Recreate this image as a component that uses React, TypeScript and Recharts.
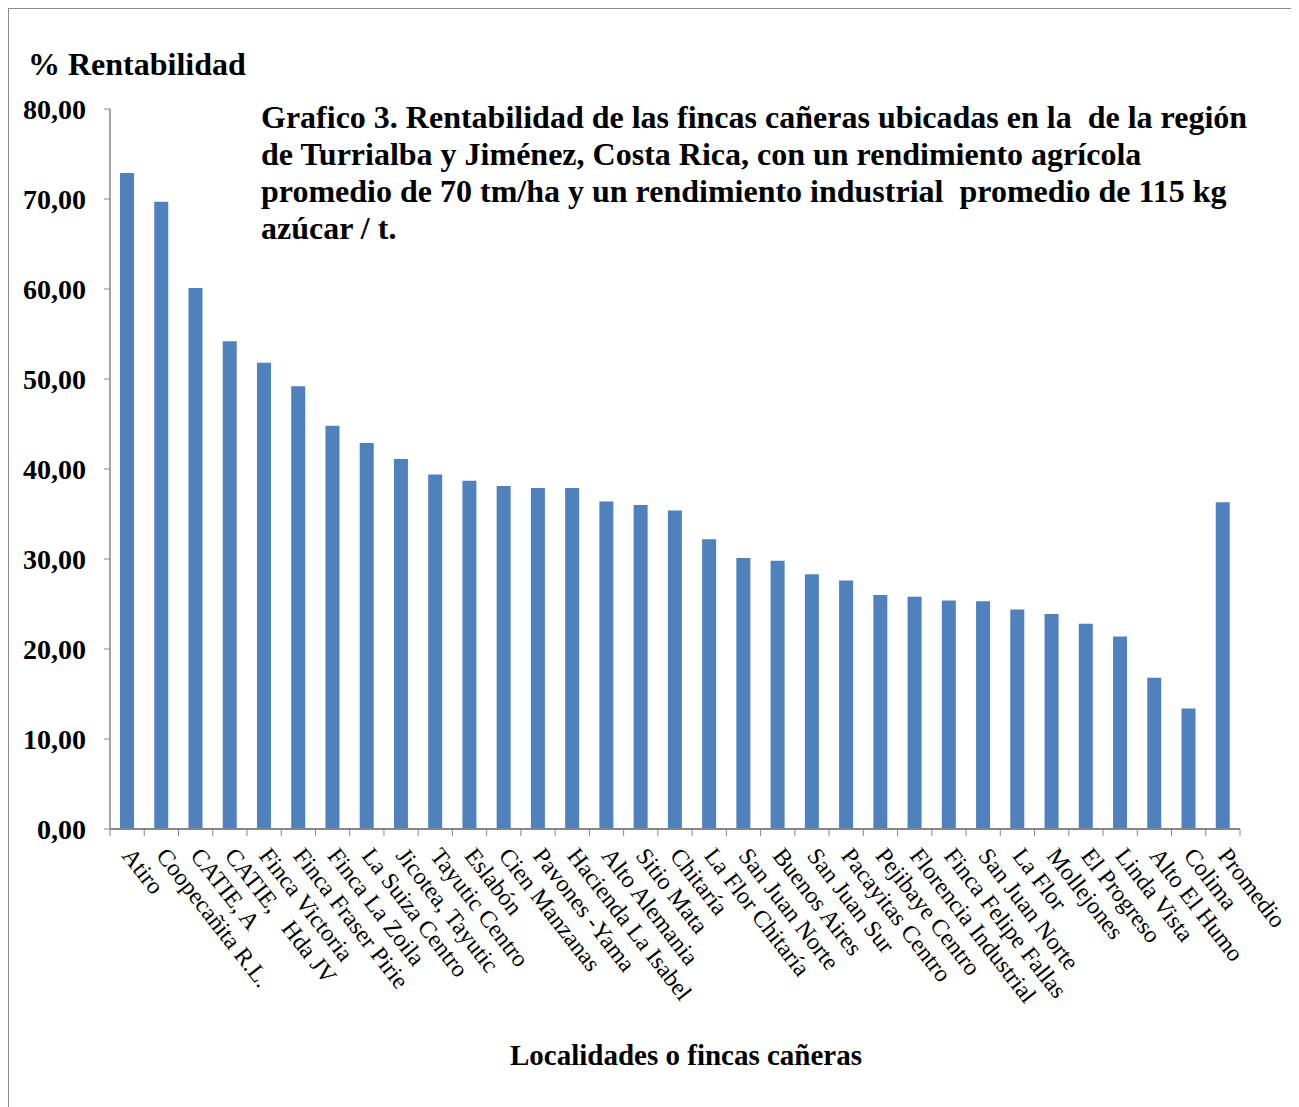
import React from 'react';
import { BarChart, Bar, XAxis, YAxis } from 'recharts';

const categories = [
  'Atiro', 'Coopecañita R.L.', 'CATIE, A', 'CATIE,\u00A0\u00A0\u00A0Hda JV', 'Finca Victoria',
  'Finca Fraser Pirie', 'Finca La Zoila', 'La Suiza Centro', 'Jicotea, Tayutic', 'Tayutic Centro',
  'Eslabón', 'Cien Manzanas', 'Pavones -Yama', 'Hacienda La Isabel', 'Alto Alemania',
  'Sitio Mata', 'Chitaría', 'La Flor Chitaría', 'San Juan Norte', 'Buenos Aires',
  'San Juan Sur', 'Pacayitas Centro', 'Pejibaye Centro', 'Florencia Industrial', 'Finca Felipe Fallas',
  'San Juan Norte', 'La Flor', 'Mollejones', 'El Progreso', 'Linda Vista',
  'Alto El Humo', 'Colima', 'Promedio',
];

const rentabilidad = [
  72.9, 69.7, 60.1, 54.2, 51.8,
  49.2, 44.8, 42.9, 41.1, 39.4,
  38.7, 38.1, 37.9, 37.9, 36.4,
  36.0, 35.4, 32.2, 30.1, 29.8,
  28.3, 27.6, 26.0, 25.8, 25.4,
  25.3, 24.4, 23.9, 22.8, 21.4,
  16.8, 13.4, 36.3,
];

const yTicks = [0, 10, 20, 30, 40, 50, 60, 70, 80];

const titleLines = [
  'Grafico 3. Rentabilidad de las fincas cañeras ubicadas en la\u00A0 de la región',
  'de Turrialba y Jiménez, Costa Rica, con un rendimiento agrícola',
  'promedio de 70 tm/ha y un rendimiento industrial\u00A0 promedio de 115 kg',
  'azúcar / t.',
];

const data = categories.map((name, i) => ({ name, value: rentabilidad[i] }));

const FONT = '"Liberation Serif", "Times New Roman", serif';
const AXIS = '#868686';

const CHART_W = 1287;
const CHART_H = 1097;
const MARGIN = { top: 100, right: 56, left: 11, bottom: 77 };
const Y_W = 90;
const PLOT_W = CHART_W - MARGIN.left - MARGIN.right - Y_W;
const BAND = PLOT_W / categories.length;

const CategoryTick = (props: any) => {
  const { x, y, payload, index } = props;
  const left = x - BAND / 2;
  const tx = x - 6;
  const ty = y + 27;
  return (
    <g>
      <line x1={left} y1={y} x2={left} y2={y + 7} stroke={AXIS} />
      {index === categories.length - 1 && (
        <line x1={x + BAND / 2} y1={y} x2={x + BAND / 2} y2={y + 7} stroke={AXIS} />
      )}
      <text
        x={tx}
        y={ty}
        transform={`rotate(52, ${tx}, ${ty})`}
        textAnchor="start"
        fontFamily={FONT}
        fontSize={24}
        fill="#000"
      >
        {payload.value}
      </text>
    </g>
  );
};

export default function App() {
  return (
    <div
      style={{
        position: 'relative',
        width: CHART_W,
        height: 1100,
        border: '1px solid #8c8c8c',
        background: '#fff',
        fontFamily: FONT,
      }}
    >
      <BarChart width={CHART_W} height={CHART_H} data={data} margin={MARGIN} barSize={14}>
        <XAxis
          dataKey="name"
          interval={0}
          tickSize={0}
          tickMargin={0}
          tickLine={false}
          axisLine={{ stroke: AXIS, strokeWidth: 2 }}
          tick={<CategoryTick />}
          height={200}
        />
        <YAxis
          width={Y_W}
          domain={[0, 80]}
          ticks={yTicks}
          interval={0}
          tickSize={6}
          tickMargin={18}
          tickLine={{ stroke: AXIS }}
          axisLine={{ stroke: AXIS, strokeWidth: 1.5 }}
          tickFormatter={(v: number) => v.toFixed(2).replace('.', ',')}
          tick={{ fill: '#000', fontFamily: FONT, fontSize: 28, fontWeight: 'bold' }}
        />
        <Bar dataKey="value" fill="#4F81BD" isAnimationActive={false} />
      </BarChart>

      <div
        style={{
          position: 'absolute',
          left: 19,
          top: 37,
          fontSize: 32,
          lineHeight: '36px',
          fontWeight: 'bold',
          whiteSpace: 'nowrap',
        }}
      >
        % Rentabilidad
      </div>

      <div
        style={{
          position: 'absolute',
          left: 252,
          top: 90,
          fontSize: 32,
          lineHeight: '37px',
          fontWeight: 'bold',
          whiteSpace: 'nowrap',
        }}
      >
        {titleLines.map((l, i) => (
          <div key={i}>{l}</div>
        ))}
      </div>

      <div
        style={{
          position: 'absolute',
          left: 477,
          top: 1031,
          width: 400,
          textAlign: 'center',
          fontSize: 29,
          lineHeight: '30px',
          fontWeight: 'bold',
          whiteSpace: 'nowrap',
        }}
      >
        Localidades o fincas cañeras
      </div>
    </div>
  );
}
